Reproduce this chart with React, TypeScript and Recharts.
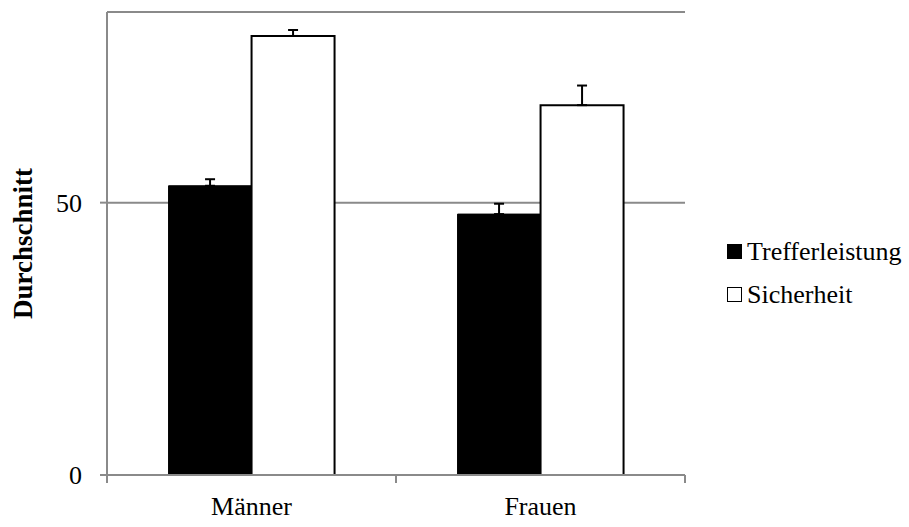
import {
  BarChart,
  Bar,
  XAxis,
  YAxis,
  CartesianGrid,
  ErrorBar,
  Legend,
  Label,
} from "recharts";

const categories = ["Männer", "Frauen"];
const seriesNames = ["Trefferleistung", "Sicherheit"];
const trefferleistung = [53.1, 47.9];
const trefferleistungErr = [1.2, 1.9];
const sicherheit = [80.6, 67.9];
const sicherheitErr = [1.1, 3.6];
const yTicks = [0, 50];

// plus-only error bars: [below, above]
const data = categories.map((name, i) => ({
  name,
  treffer: trefferleistung[i],
  trefferErr: [0, trefferleistungErr[i]],
  sicherheit: sicherheit[i],
  sicherheitErr: [0, sicherheitErr[i]],
}));

const FONT = '"Liberation Serif", "Times New Roman", serif';
const AXIS = "#8a8a8a";

function CategoryTick(props: any) {
  const { x, y, payload, index, visibleTicksCount } = props;
  const half = payload.offset || 0;
  const y0 = y - 8;
  return (
    <g>
      <line x1={x - half} y1={y0} x2={x - half} y2={y0 + 8} stroke={AXIS} strokeWidth={2} />
      {index === visibleTicksCount - 1 && (
        <line x1={x + half} y1={y0} x2={x + half} y2={y0 + 8} stroke={AXIS} strokeWidth={2} />
      )}
      <text x={x} y={y0 + 40} textAnchor="middle" fontFamily={FONT} fontSize={26} fill="#000">
        {payload.value}
      </text>
    </g>
  );
}

function ValueTick(props: any) {
  const { x, y, payload } = props;
  return (
    <text x={x} y={y} dy={9} textAnchor="end" fontFamily={FONT} fontSize={26} fill="#000">
      {payload.value}
    </text>
  );
}

function LegendBox({ payload }: any) {
  const items = [...(payload || [])].sort(
    (a: any, b: any) => seriesNames.indexOf(a.value) - seriesNames.indexOf(b.value)
  );
  return (
    <div style={{ fontFamily: FONT, fontSize: 26, color: "#000" }}>
      {items.map((item: any) => {
        const filled = item.value === seriesNames[0];
        return (
          <div
            key={item.value}
            style={{ display: "flex", alignItems: "center", height: 43, whiteSpace: "nowrap" }}
          >
            <span
              style={{
                display: "inline-block",
                width: 15,
                height: 15,
                boxSizing: "border-box",
                background: filled ? "#000" : "#fff",
                border: "1.5px solid #000",
                marginRight: 5,
              }}
            />
            {item.value}
          </div>
        );
      })}
    </div>
  );
}

export default function App() {
  return (
    <div style={{ position: "absolute", left: 0, top: 0, background: "#fff" }}>
      <BarChart
        width={909}
        height={527}
        data={data}
        margin={{ top: 12, right: 224, bottom: 0, left: 0 }}
        barCategoryGap="21.3%"
        barGap={0}
      >
        <CartesianGrid horizontal vertical={false} stroke={AXIS} strokeWidth={2} />
        <XAxis
          dataKey="name"
          height={52}
          axisLine={{ stroke: AXIS, strokeWidth: 2 }}
          tickLine={false}
          tickSize={8}
          tickMargin={0}
          interval={0}
          tick={<CategoryTick />}
        />
        <YAxis
          domain={[0, 85]}
          ticks={yTicks}
          allowDataOverflow
          width={107}
          axisLine={{ stroke: AXIS, strokeWidth: 2 }}
          tickLine={{ stroke: AXIS, strokeWidth: 2 }}
          tickSize={7}
          tickMargin={18}
          tick={<ValueTick />}
        >
          <Label
            content={(p: any) => {
              const vb = p.viewBox;
              const cx = vb.x + 23;
              const cy = vb.y + vb.height / 2;
              return (
                <text
                  x={cx}
                  y={cy}
                  transform={`rotate(-90 ${cx} ${cy})`}
                  textAnchor="middle"
                  dominantBaseline="central"
                  fontFamily={FONT}
                  fontSize={27}
                  fontWeight="bold"
                  fill="#000"
                >
                  Durchschnitt
                </text>
              );
            }}
          />
        </YAxis>
        <Legend
          layout="horizontal"
          verticalAlign="middle"
          align="center"
          content={<LegendBox />}
          wrapperStyle={{ left: 727, top: 230, width: 182, right: "auto", bottom: "auto" }}
        />
        <Bar
          dataKey="treffer"
          name={seriesNames[0]}
          fill="#000"
          stroke="#000"
          strokeWidth={1}
          isAnimationActive={false}
        >
          <ErrorBar dataKey="trefferErr" width={5} stroke="#000" strokeWidth={2} direction="y" />
        </Bar>
        <Bar
          dataKey="sicherheit"
          name={seriesNames[1]}
          fill="#fff"
          stroke="#000"
          strokeWidth={2}
          isAnimationActive={false}
        >
          <ErrorBar dataKey="sicherheitErr" width={5} stroke="#000" strokeWidth={2} direction="y" />
        </Bar>
      </BarChart>
    </div>
  );
}
